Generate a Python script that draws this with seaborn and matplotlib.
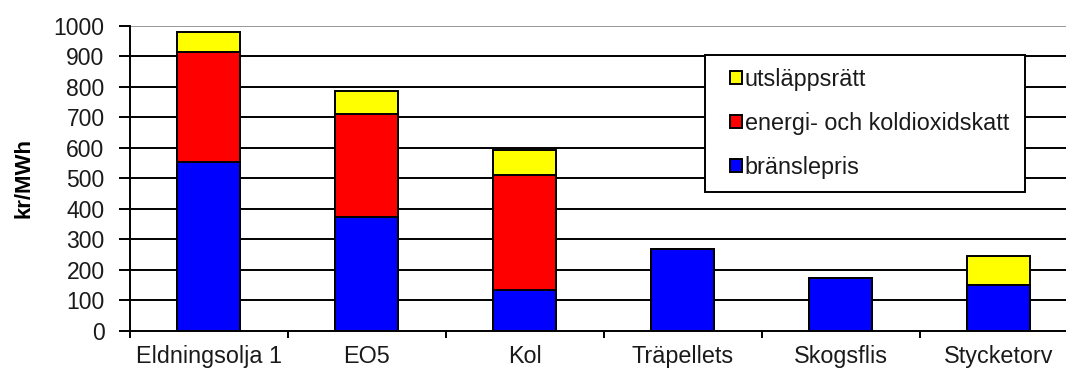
import matplotlib
matplotlib.use("Agg")
import matplotlib.pyplot as plt
from matplotlib.patches import Patch, Rectangle
from matplotlib.legend_handler import HandlerPatch
import seaborn as sns
import pandas as pd
import numpy as np

# Fuel cost components, kr/MWh
categories = ["Eldningsolja 1", "EO5", "Kol", "Träpellets", "Skogsflis", "Stycketorv"]
branslepris = [555, 374, 133, 270, 172, 150]
skatt = [360, 337, 377, 0, 0, 0]
utslappsratt = [65, 76, 83, 0, 0, 96]

series_labels = ["bränslepris", "energi- och koldioxidskatt", "utsläppsrätt"]
series_colors = ["#0000ff", "#ff0000", "#ffff00"]
y_ticks = list(range(0, 1001, 100))

sns.set_theme(style="white")
plt.rcParams["font.family"] = ["Liberation Sans", "DejaVu Sans"]

df = pd.DataFrame({
    "kategori": categories,
    "bransle": branslepris,
    "skatt": skatt,
    "utslapp": utslappsratt,
})
# cumulative heights for stacking (drawn tallest first)
df["lvl1"] = df["bransle"]
df["lvl2"] = df["lvl1"] + df["skatt"]
df["lvl3"] = df["lvl2"] + df["utslapp"]

W, H = 1066, 369
fig = plt.figure(figsize=(W / 100, H / 100), dpi=100)
ax_left, ax_bottom, ax_w, ax_h = 129.5, 331.0, 948.0, 305.3
ax = fig.add_axes([ax_left / W, (H - ax_bottom) / H, ax_w / W, ax_h / H])

# gridlines beneath bars
for t in y_ticks[1:]:
    ax.axhline(t, color="#999999" if t == 1000 else "black", lw=1.4, zorder=0)

for col, color in zip(["lvl3", "lvl2", "lvl1"], series_colors[::-1]):
    sns.barplot(data=df, x="kategori", y=col, order=categories, color=color,
                saturation=1, width=0.4, edgecolor="black", linewidth=1.4,
                ax=ax, zorder=2)

ax.set_xlim(-0.5, 5.5)
ax.set_ylim(0, 1000)
ax.set_yticks(y_ticks)
ax.set_xlabel("")
ax.set_ylabel("kr/MWh", fontsize=16, fontweight="bold", color="black", labelpad=14)

for s in ["top", "right"]:
    ax.spines[s].set_visible(False)
for s in ["left", "bottom"]:
    ax.spines[s].set_color("black")
    ax.spines[s].set_linewidth(1.4)

ax.set_xticks(np.arange(-0.5, 6, 1.0), minor=True)
ax.tick_params(axis="x", which="major", length=0, pad=10, labelsize=16.8, labelcolor="#1a1a1a")
ax.tick_params(axis="x", which="minor", length=5, width=1.4, color="black", direction="out", bottom=True)
ax.tick_params(axis="y", which="major", length=8, width=1.4, color="black", direction="out",
               left=True, pad=10, labelsize=16.5, labelcolor="#1a1a1a")


def square_at_right(legend, orig_handle, xdescent, ydescent, width, height, fontsize):
    # small square key placed at the right end of the handle slot
    side = 0.55 * fontsize
    return Rectangle((-xdescent + width - side, -ydescent + (height - side) / 2), side, side)


# legend box spans a fixed pixel region
lx0, lx1, ly0, ly1 = 705, 1025, 55, 188
handles = [Patch(facecolor=c, edgecolor="black", linewidth=1.4, label=l)
           for c, l in zip(series_colors[::-1], series_labels[::-1])]
leg = ax.legend(handles=handles, loc="upper left", mode="expand",
                bbox_to_anchor=((lx0 - ax_left) / ax_w, (ax_bottom - ly1) / ax_h,
                                (lx1 - lx0) / ax_w, (ly1 - ly0) / ax_h),
                handler_map={Patch: HandlerPatch(patch_func=square_at_right)},
                fontsize=16.8, frameon=True, fancybox=False, shadow=False,
                handlelength=1.05, handleheight=0.55, handletextpad=0.1,
                labelspacing=0.9, borderpad=0.55, borderaxespad=0)
frame = leg.get_frame()
frame.set_edgecolor("black")
frame.set_linewidth(1.4)
frame.set_facecolor("white")
frame.set_alpha(1)
leg.set_zorder(5)
for t in leg.get_texts():
    t.set_color("#1a1a1a")

fig.savefig("out.png", dpi=100)
